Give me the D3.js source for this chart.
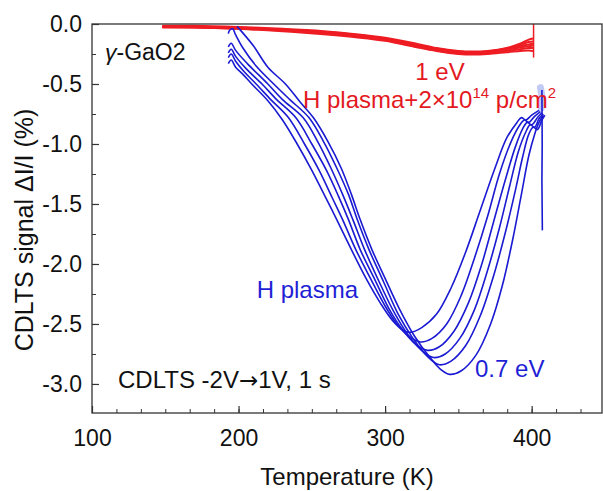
<!DOCTYPE html>
<html>
<head>
<meta charset="utf-8">
<script src="https://cdn.jsdelivr.net/npm/d3@7"></script>
<style>
  body { margin: 0; background: #fff; }
  text { font-family: "Liberation Sans", Arial, sans-serif; }
</style>
</head>
<body>
<div id="chart"></div>
<script>
// Tick values for the axes
const xTicks = [100, 200, 300, 400];
const yTicks = [0.0, -0.5, -1.0, -1.5, -2.0, -2.5, -3.0];
const yTickLabels = ["0.0", "-0.5", "-1.0", "-1.5", "-2.0", "-2.5", "-3.0"];

// Blue curves: H plasma as [T (K), signal (%)]
const blue0 = [[193,-0.33],[195,-0.30],[198,-0.36],[203,-0.42],[209,-0.5],[220,-0.64],[230,-0.8],[240,-1.0],[250,-1.22],[260,-1.46],[267,-1.63],[277,-1.88],[287,-2.12],[297,-2.33],[305,-2.47],[312,-2.55],[317,-2.57],[325,-2.53],[335,-2.42],[345,-2.2],[355,-1.9],[365,-1.55],[375,-1.2],[383,-0.95],[390,-0.82],[393,-0.78],[396,-0.8],[400,-0.76],[405,-0.72]];
const blue1 = [[193,-0.28],[195,-0.25],[198,-0.31],[204,-0.4],[212,-0.5],[222,-0.63],[234,-0.78],[245,-1.0],[255,-1.22],[264,-1.45],[271,-1.63],[280,-1.88],[290,-2.12],[300,-2.35],[308,-2.5],[316,-2.6],[324,-2.65],[332,-2.62],[342,-2.5],[352,-2.26],[361,-1.95],[370,-1.6],[378,-1.25],[386,-0.98],[392,-0.84],[395,-0.8],[398,-0.82],[402,-0.77],[406,-0.73]];
const blue2 = [[193,-0.24],[195,-0.21],[198,-0.27],[205,-0.37],[216,-0.5],[226,-0.63],[239,-0.78],[250,-1.0],[260,-1.22],[268,-1.43],[275,-1.63],[283,-1.88],[293,-2.13],[303,-2.38],[312,-2.55],[321,-2.67],[329,-2.72],[337,-2.69],[347,-2.56],[357,-2.32],[366,-2.0],[374,-1.65],[382,-1.3],[389,-1.02],[394,-0.87],[397,-0.82],[400,-0.84],[404,-0.78],[407,-0.74]];
const blue3 = [[193,-0.19],[195,-0.16],[198,-0.22],[206,-0.33],[220,-0.5],[230,-0.63],[244,-0.78],[254,-0.98],[263,-1.2],[271,-1.42],[278,-1.63],[286,-1.88],[296,-2.15],[306,-2.4],[315,-2.58],[324,-2.71],[333,-2.78],[341,-2.75],[351,-2.62],[361,-2.38],[370,-2.05],[378,-1.7],[385,-1.35],[391,-1.06],[396,-0.9],[399,-0.84],[402,-0.86],[405,-0.79],[408,-0.75]];
const blue4 = [[193,-0.08],[194,-0.05],[196,-0.04],[198,-0.09],[203,-0.2],[212,-0.35],[224,-0.5],[235,-0.63],[248,-0.78],[258,-0.98],[267,-1.2],[275,-1.42],[281,-1.63],[289,-1.88],[299,-2.15],[309,-2.42],[319,-2.62],[328,-2.76],[337,-2.84],[345,-2.81],[355,-2.68],[365,-2.43],[374,-2.1],[382,-1.74],[389,-1.38],[394,-1.1],[398,-0.92],[401,-0.86],[404,-0.88],[407,-0.8],[409,-0.76]];
const blue5 = [[199,-0.02],[210,-0.18],[220,-0.36],[232,-0.5],[242,-0.65],[251,-0.78],[261,-0.98],[270,-1.2],[277,-1.42],[283,-1.63],[291,-1.88],[300,-2.12],[310,-2.38],[320,-2.6],[330,-2.77],[338,-2.88],[344,-2.92],[352,-2.89],[362,-2.76],[372,-2.5],[380,-2.18],[387,-1.8],[393,-1.42],[398,-1.1],[402,-0.92],[405,-0.82],[408,-0.76]];
const blueSpike = [[407,-0.55],[407.2,-1.0],[407,-1.3],[407.3,-1.72]];
const blueBlob = [[406,-0.53],[407,-0.6],[406.5,-0.7]];

// Red curves: H plasma + 2x10^14 p/cm2
const red0 = [[148,-0.015],[170,-0.015],[200,-0.025],[230,-0.04],[258,-0.06],[280,-0.085],[300,-0.115],[320,-0.16],[335,-0.2],[350,-0.225],[360,-0.23],[370,-0.225],[383,-0.2],[392,-0.165],[398,-0.13],[401,-0.12]];
const red1 = [[148,-0.02],[170,-0.02],[200,-0.03],[230,-0.045],[258,-0.065],[280,-0.09],[300,-0.12],[320,-0.17],[335,-0.205],[350,-0.23],[360,-0.235],[370,-0.23],[383,-0.205],[392,-0.175],[398,-0.15],[401,-0.145]];
const red2 = [[148,-0.02],[170,-0.025],[200,-0.035],[230,-0.05],[258,-0.07],[280,-0.095],[300,-0.125],[320,-0.175],[335,-0.21],[350,-0.235],[360,-0.24],[370,-0.235],[383,-0.21],[392,-0.185],[398,-0.17],[401,-0.165]];
const red3 = [[148,-0.025],[170,-0.025],[200,-0.035],[230,-0.05],[258,-0.075],[280,-0.1],[300,-0.13],[320,-0.18],[335,-0.215],[350,-0.24],[360,-0.245],[370,-0.24],[383,-0.215],[392,-0.195],[398,-0.185],[401,-0.18]];
const red4 = [[148,-0.025],[170,-0.03],[200,-0.04],[230,-0.055],[258,-0.08],[280,-0.105],[300,-0.135],[320,-0.185],[335,-0.22],[350,-0.245],[360,-0.25],[370,-0.245],[383,-0.225],[392,-0.21],[398,-0.2],[401,-0.2]];
const red5 = [[148,-0.03],[170,-0.03],[200,-0.04],[230,-0.06],[258,-0.085],[280,-0.11],[300,-0.14],[320,-0.19],[335,-0.225],[350,-0.25],[360,-0.255],[370,-0.25],[383,-0.235],[392,-0.225],[398,-0.22],[401,-0.225]];
const redSpike = [[401.3,0.0],[401.3,-0.28]];

const blueSeries = [blue0, blue1, blue2, blue3, blue4, blue5];
const redSeries = [red0, red1, red2, red3, red4, red5];

const W = 603, H = 491;
const plot = { left: 92, right: 602, top: 24, bottom: 413 };

const svg = d3.select("#chart").append("svg")
  .attr("width", W).attr("height", H)
  .style("background", "#fff");

const x = d3.scaleLinear().domain([100, 448]).range([plot.left, plot.right]);
const y = d3.scaleLinear().domain([-3.242, 0]).range([plot.bottom, plot.top]);

const line = d3.line()
  .x(d => x(d[0]))
  .y(d => y(d[1]))
  .curve(d3.curveCatmullRom.alpha(0.5));

svg.append("clipPath").attr("id", "clip")
  .append("rect")
  .attr("x", plot.left).attr("y", plot.top - 2)
  .attr("width", plot.right - plot.left).attr("height", plot.bottom - plot.top + 2);

const g = svg.append("g").attr("clip-path", "url(#clip)");

// red curves
g.selectAll(".red")
  .data(redSeries)
  .enter()
  .append("path")
  .attr("class", "red")
  .attr("d", line)
  .attr("fill", "none")
  .attr("stroke", "#ee1d23")
  .attr("stroke-width", 2);

g.append("path")
  .attr("d", d3.line().x(d => x(d[0])).y(d => y(d[1]))(redSpike))
  .attr("fill", "none")
  .attr("stroke", "#ee1d23")
  .attr("stroke-width", 1.5);

// blue curves
g.append("path")
  .attr("d", d3.line().x(d => x(d[0])).y(d => y(d[1]))(blueBlob))
  .attr("fill", "none")
  .attr("stroke", "#9aa6f0")
  .attr("stroke-opacity", 0.6)
  .attr("stroke-width", 7)
  .attr("stroke-linecap", "round");

g.selectAll(".blue")
  .data(blueSeries)
  .enter()
  .append("path")
  .attr("class", "blue")
  .attr("d", line)
  .attr("fill", "none")
  .attr("stroke", "#1a1ad2")
  .attr("stroke-width", 1.6);

g.append("path")
  .attr("d", d3.line().x(d => x(d[0])).y(d => y(d[1]))(blueSpike))
  .attr("fill", "none")
  .attr("stroke", "#1a1ad2")
  .attr("stroke-width", 1.6);

// frame
svg.append("rect")
  .attr("x", plot.left).attr("y", plot.top)
  .attr("width", plot.right - plot.left).attr("height", plot.bottom - plot.top)
  .attr("fill", "none")
  .attr("stroke", "#333")
  .attr("stroke-width", 1.3);

// x axis (ticks inside)
const xMinor = d3.range(100, 448, 100 / 6);
svg.append("g")
  .attr("transform", `translate(0,${plot.bottom})`)
  .call(d3.axisBottom(x).tickValues(xMinor).tickSize(-4).tickFormat(""))
  .call(a => a.select(".domain").remove())
  .selectAll("line").attr("stroke", "#333");

svg.append("g")
  .attr("transform", `translate(0,${plot.bottom})`)
  .call(d3.axisBottom(x).tickValues(xTicks).tickSize(-7).tickPadding(17))
  .call(a => a.select(".domain").remove())
  .call(a => a.selectAll("line").attr("stroke", "#333").attr("stroke-width", 1.2))
  .selectAll("text")
  .attr("font-size", 23)
  .attr("fill", "#111")
  .attr("font-family", "Liberation Sans, Arial, sans-serif");

// y axis (ticks inside)
const yMinor = d3.range(0, -3.242, -0.25);
svg.append("g")
  .attr("transform", `translate(${plot.left},0)`)
  .call(d3.axisLeft(y).tickValues(yMinor).tickSize(-4).tickFormat(""))
  .call(a => a.select(".domain").remove())
  .selectAll("line").attr("stroke", "#333");

svg.append("g")
  .attr("transform", `translate(${plot.left},0)`)
  .call(d3.axisLeft(y).tickValues(yTicks).tickSize(-7).tickPadding(10)
    .tickFormat((d, i) => yTickLabels[i]))
  .call(a => a.select(".domain").remove())
  .call(a => a.selectAll("line").attr("stroke", "#333").attr("stroke-width", 1.2))
  .selectAll("text")
  .attr("font-size", 23)
  .attr("fill", "#111")
  .attr("font-family", "Liberation Sans, Arial, sans-serif");

// axis titles
svg.append("text")
  .attr("x", 347).attr("y", 485)
  .attr("text-anchor", "middle")
  .attr("font-size", 24)
  .attr("fill", "#111")
  .text("Temperature (K)");

svg.append("text")
  .attr("transform", "translate(33,230) rotate(-90)")
  .attr("text-anchor", "middle")
  .attr("font-size", 25)
  .attr("fill", "#111")
  .text("CDLTS signal \u0394I/I (%)");

// annotations
const gaLabel = svg.append("text")
  .attr("x", 105).attr("y", 60)
  .attr("font-size", 23)
  .attr("fill", "#111");
gaLabel.append("tspan").attr("font-style", "italic").text("\u03b3");
gaLabel.append("tspan").text("-GaO2");

svg.append("text")
  .attr("x", 440).attr("y", 80)
  .attr("text-anchor", "middle")
  .attr("font-size", 24)
  .attr("fill", "#e3191f")
  .text("1 eV");

const hp = svg.append("text")
  .attr("x", 303).attr("y", 108)
  .attr("font-size", 24)
  .attr("fill", "#e3191f");
hp.append("tspan").text("H plasma+2\u00d710");
hp.append("tspan").attr("font-size", 15).attr("dy", -10).text("14");
hp.append("tspan").attr("dy", 10).text(" p/cm");
hp.append("tspan").attr("font-size", 15).attr("dy", -10).text("2");

svg.append("text")
  .attr("x", 358).attr("y", 298)
  .attr("text-anchor", "end")
  .attr("font-size", 24)
  .attr("fill", "#1f1fd6")
  .text("H plasma");

svg.append("text")
  .attr("x", 475).attr("y", 377)
  .attr("font-size", 24)
  .attr("fill", "#1f1fd6")
  .text("0.7 eV");

const cond = svg.append("text")
  .attr("x", 118).attr("y", 388)
  .attr("font-size", 24)
  .attr("fill", "#111");
cond.append("tspan").text("CDLTS -2V");
cond.append("tspan").attr("font-family", "DejaVu Sans").attr("font-size", 23).text("\u2192");
cond.append("tspan").text("1V, 1 s");
</script>
</body>
</html>
